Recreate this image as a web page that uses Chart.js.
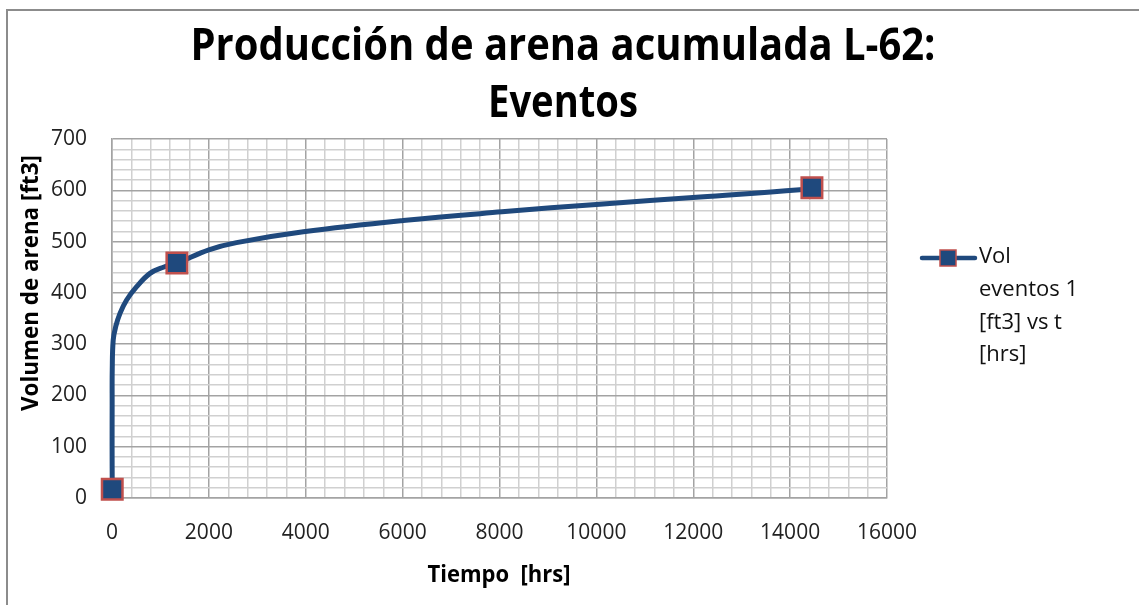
<!DOCTYPE html>
<html>
<head>
<meta charset="utf-8">
<script src="https://cdn.jsdelivr.net/npm/chart.js@4/dist/chart.umd.min.js"></script>
<style>
  html, body { margin: 0; padding: 0; background: #fff; }
  #wrap { width: 1139px; height: 605px; position: relative; }
</style>
</head>
<body>
<div id="wrap"><canvas id="chart" width="1139" height="605"></canvas></div>
<script>
// curve (line only, no markers)
const curveT   = [5, 2, 3, 5, 25, 76, 165, 302, 509, 785, 1060, 1340, 2000, 2570, 3950, 6010, 8050, 10070, 12140, 14200, 14450];
const curveVol = [17, 100, 180, 250, 308, 334, 360, 386, 412, 438, 450, 458, 484, 498, 519, 541, 558, 573, 587, 601, 605];

// points with markers
const markerT   = [5, 1340, 14450];
const markerVol = [17, 458, 605];

const titleLines = ["Producción de arena acumulada L-62:", "Eventos"];
const xTitle = "Tiempo  [hrs]";
const yTitle = "Volumen de arena [ft3]";
const legendLines = ["Vol", "eventos 1", "[ft3] vs t", "[hrs]"];

const lineBlue = "#1F497D";
const markRed = "#C0504D";
const majorGrid = "#a3a3a3";
const minorGrid = "#d0d0d0";

// draw text squeezed to a given width
function fitText(ctx, txt, x, y, width, font) {
  ctx.save();
  ctx.font = font;
  const w = ctx.measureText(txt).width;
  const s = Math.min(1, width / w);
  ctx.translate(x, y);
  ctx.scale(s, 1);
  ctx.textAlign = "center";
  ctx.textBaseline = "middle";
  ctx.fillText(txt, 0, 0);
  ctx.restore();
}

const decor = {
  id: "decor",
  afterDraw(chart) {
    const ctx = chart.ctx;
    ctx.save();
    // outer frame
    ctx.strokeStyle = "#8c8c8c";
    ctx.lineWidth = 2;
    ctx.beginPath();
    ctx.moveTo(7, 605);
    ctx.lineTo(7, 10);
    ctx.lineTo(1139, 10);
    ctx.stroke();

    ctx.fillStyle = "#000";
    fitText(ctx, titleLines[0], 563, 47, 745, 'bold 44px "Open Sans"');
    fitText(ctx, titleLines[1], 563, 104, 150, 'bold 44px "Open Sans"');

    fitText(ctx, xTitle, 499, 575, 143, 'bold 24px "Open Sans"');

    ctx.save();
    ctx.translate(31, 283);
    ctx.rotate(-Math.PI / 2);
    fitText(ctx, yTitle, 0, 0, 256, 'bold 24px "Open Sans"');
    ctx.restore();

    // legend
    ctx.strokeStyle = lineBlue;
    ctx.lineWidth = 4.5;
    ctx.lineCap = "round";
    ctx.beginPath();
    ctx.moveTo(922, 258);
    ctx.lineTo(975, 258);
    ctx.stroke();
    ctx.fillStyle = lineBlue;
    ctx.fillRect(940, 250, 16, 16);
    ctx.strokeStyle = markRed;
    ctx.lineWidth = 1.5;
    ctx.strokeRect(940, 250, 16, 16);

    ctx.fillStyle = "#111";
    ctx.font = '22px "Open Sans"';
    ctx.textAlign = "left";
    ctx.textBaseline = "middle";
    legendLines.forEach((t, i) => ctx.fillText(t, 979, 257 + i * 32.7));
    ctx.restore();
  }
};

new Chart(document.getElementById("chart"), {
  type: "scatter",
  data: {
    datasets: [
      {
        label: "curve",
        data: curveT.map((t, i) => ({ x: t, y: curveVol[i] })),
        showLine: true,
        borderColor: lineBlue,
        borderWidth: 5,
        pointRadius: 0,
        tension: 0.4,
        clip: false,
        order: 2
      },
      {
        label: "Vol eventos 1 [ft3] vs t [hrs]",
        data: markerT.map((t, i) => ({ x: t, y: markerVol[i] })),
        showLine: false,
        pointStyle: "rect",
        pointRadius: 14.5,
        backgroundColor: lineBlue,
        borderColor: markRed,
        borderWidth: 2.5,
        clip: false,
        order: 1
      }
    ]
  },
  options: {
    responsive: false,
    animation: false,
    layout: { padding: { left: 10, right: 252, top: 139, bottom: 0 } },
    plugins: {
      legend: { display: false },
      title: { display: false },
      tooltip: { enabled: false }
    },
    scales: {
      x: {
        type: "linear",
        min: 0,
        max: 16000,
        afterFit(scale) { scale.height = 107; },
        ticks: {
          stepSize: 400,
          autoSkip: false,
          maxRotation: 0,
          padding: 22,
          color: "#222",
          font: { family: "Open Sans", size: 21 },
          callback: v => (v % 2000 === 0 ? v : "")
        },
        grid: {
          drawTicks: false,
          lineWidth: 1.5,
          color: c => (c.tick && c.tick.value % 2000 === 0 ? majorGrid : minorGrid)
        },
        border: { color: majorGrid, width: 1.5 }
      },
      y: {
        min: 0,
        max: 700,
        afterFit(scale) { scale.width = 102; },
        ticks: {
          stepSize: 20,
          autoSkip: false,
          padding: 25,
          color: "#222",
          font: { family: "Open Sans", size: 21 },
          callback: v => (v % 100 === 0 ? v : "")
        },
        grid: {
          drawTicks: false,
          lineWidth: 1.5,
          color: c => (c.tick && c.tick.value % 100 === 0 ? majorGrid : minorGrid)
        },
        border: { color: majorGrid, width: 1.5 }
      }
    }
  },
  plugins: [decor]
});
</script>
</body>
</html>
